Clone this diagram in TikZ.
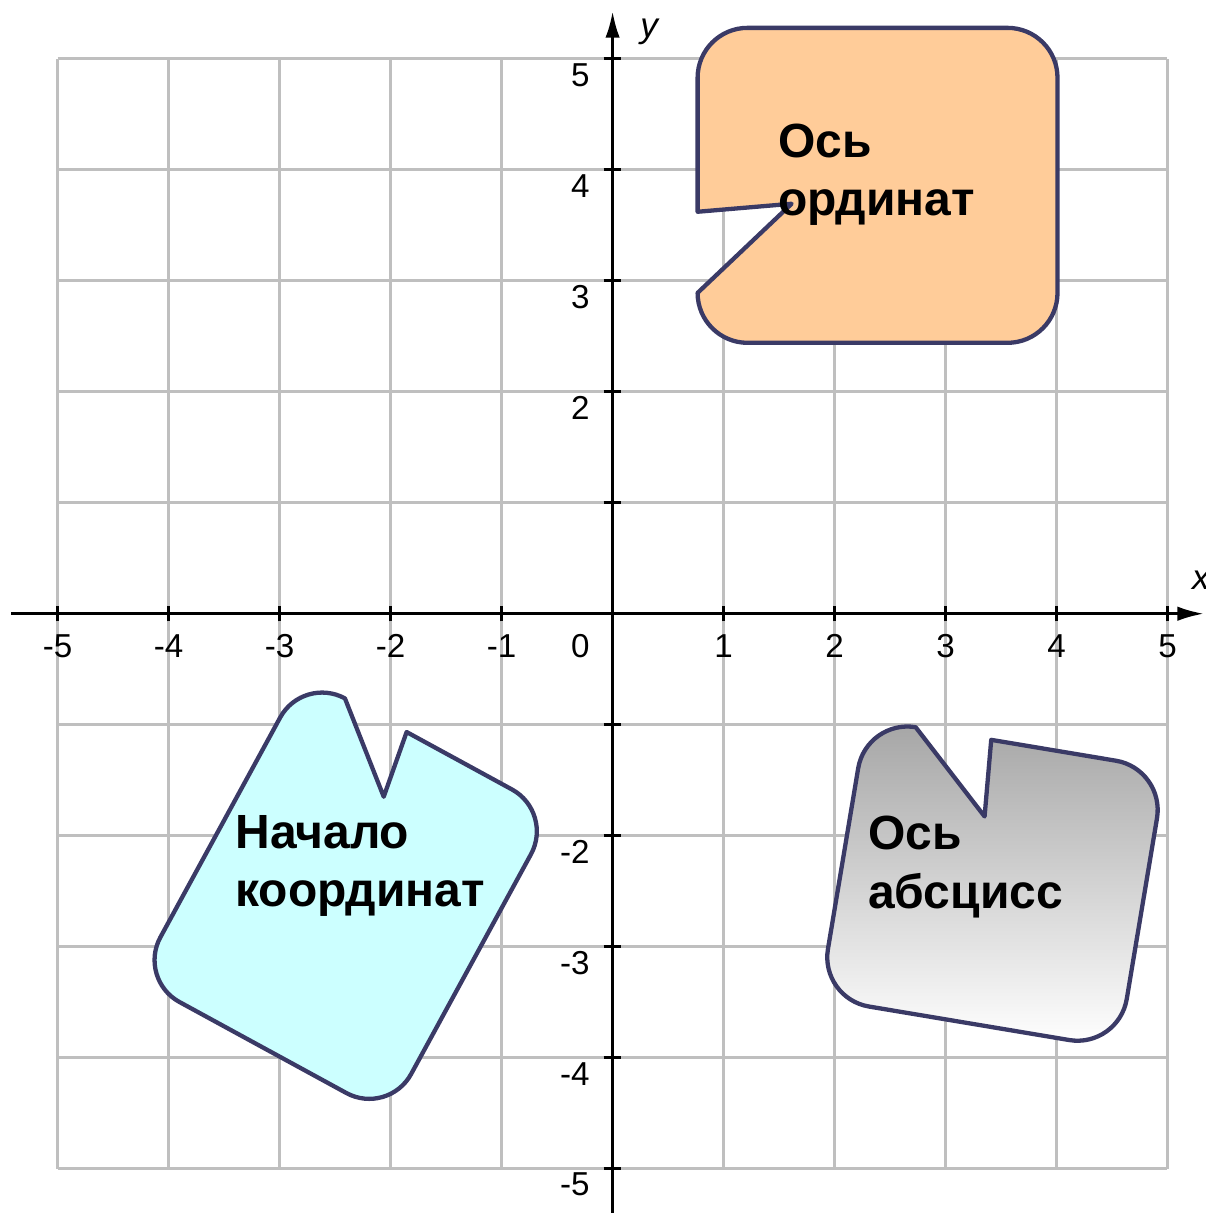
\documentclass[tikz,border=0pt]{standalone}
\usepackage{fontspec}
\setmainfont{Liberation Sans}
\usetikzlibrary{arrows.meta}
\definecolor{edgeblue}{RGB}{58,58,102}
\definecolor{peach}{RGB}{255,204,153}
\definecolor{paleaqua}{RGB}{204,255,255}

\begin{document}
\begin{tikzpicture}[x=1cm, y=1cm,
      bubble/.style={draw=edgeblue, line width=1.1pt, line join=round},
      numlab/.style={font=\fontsize{8.5}{10}\selectfont, inner sep=0pt},
      bubbletext/.style={font=\fontsize{12.3}{14.9}\selectfont\bfseries, align=left, anchor=north west, inner sep=0pt}]
      \useasboundingbox (-5.52,-5.40) rectangle (5.34,5.53);

      \draw[black!25, line width=0.8pt] (-5,-5) grid (5,5);
      \draw[line width=0.8pt, -{Latex[length=2.4mm, width=1.3mm]}] (-5.42,0) -- (5.33,0);
      \draw[line width=0.8pt, -{Latex[length=2.4mm, width=1.3mm]}] (0,-5.42) -- (0,5.43);

      \foreach \k [count=\i] in {-5,-4,-3,-2,-1,1,2,3,4,5} {
        \draw[line width=0.8pt] (\k,-0.07) -- (\k,0.07);
        \draw[line width=0.8pt] (-0.08,\k) -- (0.08,\k);
        \node[numlab] (xlab\i) at (\k,-0.29) {\k};
      }
      \foreach \k [count=\i] in {-5,-4,-3,-2,2,3,4,5}
        \node[numlab, anchor=east] (ylab\i) at (-0.2,\k-0.145) {\k};
      \node[numlab, anchor=east] (zero) at (-0.2,-0.29) {0};
      \node[numlab, font=\fontsize{9}{10}\selectfont\itshape] (yname) at (0.33,5.24) {y};
      \node[numlab, font=\fontsize{9}{10}\selectfont\itshape] (xname) at (5.30,0.30) {x};

      \draw[bubble, fill=peach] (0.766,3.622) -- (0.766,4.829) arc[start angle=180, end angle=90, radius=0.45]
        -- (3.559,5.279) arc[start angle=90, end angle=0, radius=0.45]
        -- (4.009,2.891) arc[start angle=0, end angle=-90, radius=0.45]
        -- (1.216,2.441) arc[start angle=270, end angle=180, radius=0.45]
        -- (1.613,3.694) -- cycle;
      \node[bubbletext] (ordtext) at (1.486,4.423) {Ось\\ординат};

      \begin{scope}[shift={(-2.405,-2.541)}, rotate=-28.6]
        \draw[bubble, fill=paleaqua] (-0.224,1.558) -- (0.857,1.558) arc[start angle=90, end angle=0, radius=0.43]
          -- (1.287,-1.128) arc[start angle=0, end angle=-90, radius=0.43]
          -- (-0.857,-1.558) arc[start angle=270, end angle=180, radius=0.43]
          -- (-1.287,1.128) arc[start angle=180, end angle=90, radius=0.43]
          -- (-0.126,0.947) -- cycle;
      \end{scope}
      \node[bubbletext] (origtext) at (-3.405,-1.811) {Начало\\координат};

      \begin{scope}[shift={(3.423,-2.432)}, rotate=-9.5]
        \draw[bubble, top color=black!35, bottom color=white] (-0.225,1.276) -- (0.915,1.276) arc[start angle=90, end angle=0, radius=0.45]
          -- (1.365,-0.826) arc[start angle=0, end angle=-90, radius=0.45]
          -- (-0.915,-1.276) arc[start angle=270, end angle=180, radius=0.45]
          -- (-1.365,0.826) arc[start angle=180, end angle=90, radius=0.45]
          -- (-0.170,0.585) -- cycle;
      \end{scope}
      \node[bubbletext] (abstext) at (2.297,-1.82) {Ось\\абсцисс};
    \end{tikzpicture}
\end{document}
